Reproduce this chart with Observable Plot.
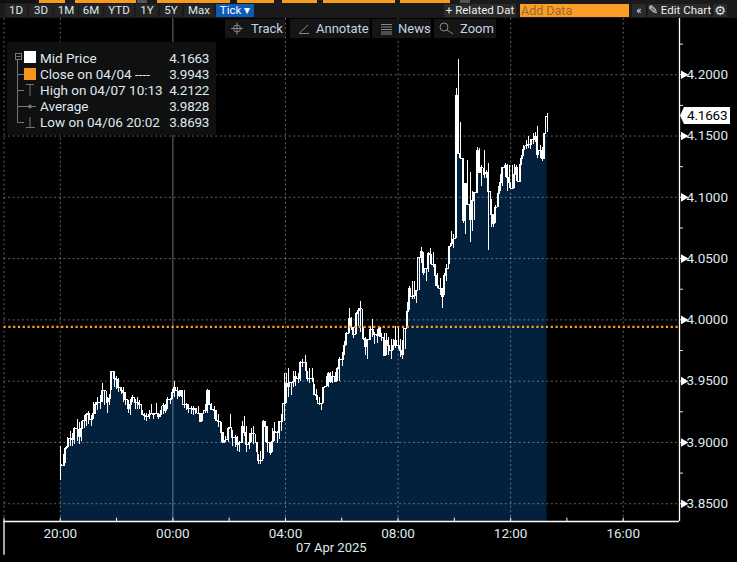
<!DOCTYPE html>
<html><head><meta charset="utf-8">
<script src="https://cdn.jsdelivr.net/npm/d3@7"></script>
<script src="https://cdn.jsdelivr.net/npm/@observablehq/plot@0.6"></script>
<style>
html,body{margin:0;background:#000;overflow:hidden}
#wrap{position:relative;width:737px;height:562px;background:#000;overflow:hidden;font-family:Roboto,sans-serif;color:#dfe8ef}
#wrap svg.plot{display:block;position:absolute;left:0;top:0}
.o{position:absolute}
.btn{position:absolute;top:4px;height:13px;line-height:13px;font-size:11.5px;text-align:center;background:#242424;color:#dfe8ef;white-space:pre}
.tool{position:absolute;top:19px;height:19px;line-height:19px;font-size:13px;background:#151515;color:#c4d3e0;white-space:pre}
.row{position:absolute;left:40px;height:16px;line-height:16px;font-size:13.5px;color:#dfe8ef;white-space:pre}
.val{position:absolute;height:16px;line-height:16px;font-size:13.5px;letter-spacing:-.3px;color:#dfe8ef;text-align:right}
</style></head><body>
<div id="wrap"></div>
<script>
const highs = [
3.897,3.890,3.896,3.904,3.909,3.907,3.912,3.919,3.916,3.917,3.922,3.924,3.925,3.922,3.933,3.933,3.937,3.938,3.948,3.942,3.937,3.939,3.958,3.958,3.954,3.952,3.945,3.945,3.941,3.934,3.935,3.938,3.935,3.937,3.934,3.926,3.924,
3.924,3.926,3.931,3.924,3.932,3.924,3.926,3.932,3.931,3.937,3.936,3.943,3.950,3.945,3.942,3.942,3.942,3.932,3.931,3.929,3.929,3.928,3.929,3.924,3.924,3.931,3.943,3.942,3.932,3.929,3.926,3.923,3.916,3.908,3.905,3.912,
3.923,3.910,3.906,3.905,3.901,3.917,3.921,3.913,3.907,3.911,3.913,3.900,3.890,3.893,3.918,3.917,3.913,3.900,3.911,3.916,3.909,3.917,3.923,3.956,3.956,3.960,3.949,3.958,3.958,3.956,3.966,3.968,3.971,3.958,3.960,3.960,
3.947,3.943,3.937,3.932,3.945,3.954,3.957,3.957,3.958,3.957,3.961,3.969,3.973,3.982,3.990,4.009,4.002,3.994,4.006,4.009,4.015,3.994,3.986,3.984,3.995,4.000,3.990,3.992,3.995,3.989,3.989,3.989,3.986,3.984,3.984,3.995,
3.993,3.984,3.983,3.993,4.014,
4.027,4.031,4.031,4.024,4.051,4.059,4.055,4.042,4.055,4.058,4.055,4.045,4.038,4.034,4.0255,4.038,4.045,4.060,4.072,4.070,4.189,
4.2122,4.161,4.132,4.111,4.130,4.120,4.105,4.104,4.141,4.140,4.126,4.138,4.122,4.128,4.098,4.086,4.093,4.109,4.119,4.124,4.128,4.127,4.126,4.126,4.127,4.126,4.127,4.134,4.142,4.146,4.1495,4.1475,4.152,4.153,4.158,4.142,4.141,4.152,4.168];
const lows = [
3.8693,3.880,3.883,3.895,3.897,3.897,3.898,3.901,3.898,3.901,3.911,3.913,3.915,3.913,3.919,3.923,3.926,3.927,3.933,3.930,3.924,3.930,3.942,3.945,3.943,3.941,3.939,3.933,3.930,3.924,3.922,3.933,3.927,3.927,3.927,3.922,3.918,
3.917,3.919,3.923,3.919,3.923,3.919,3.920,3.923,3.924,3.927,3.931,3.935,3.937,3.935,3.937,3.937,3.928,3.926,3.924,3.923,3.922,3.923,3.924,3.917,3.917,3.924,3.924,3.931,3.926,3.919,3.918,3.912,3.900,3.900,3.900,3.900,
3.911,3.897,3.896,3.893,3.892,3.899,3.905,3.892,3.894,3.900,3.898,3.892,3.882,3.882,3.886,3.900,3.892,3.889,3.892,3.901,3.899,3.902,3.909,3.917,3.932,3.937,3.938,3.945,3.946,3.948,3.950,3.961,3.958,3.950,3.948,3.949,
3.939,3.934,3.930,3.926,3.932,3.945,3.945,3.948,3.948,3.949,3.950,3.950,3.962,3.971,3.979,3.989,3.991,3.985,3.988,3.995,3.990,3.983,3.971,3.968,3.983,3.986,3.980,3.981,3.986,3.982,3.971,3.971,3.971,3.968,3.975,3.977,
3.976,3.969,3.968,3.976,3.993,
4.008,4.017,4.017,4.013,4.024,4.046,4.036,4.031,4.039,4.045,4.043,4.027,4.0255,4.020,4.009,4.020,4.031,4.045,4.0595,4.058,4.066,
4.135,4.132,4.079,4.070,4.093,4.063,4.072,4.081,4.103,4.120,4.109,4.115,4.115,4.057,4.075,4.075,4.079,4.092,4.105,4.109,4.116,4.105,4.107,4.107,4.107,4.113,4.113,4.126,4.133,4.139,4.140,4.139,4.143,4.145,4.132,4.132,4.129,4.131,4.153];
const closes = [
3.882,3.881,3.895,3.897,3.903,3.902,3.911,3.911,3.905,3.911,3.918,3.923,3.924,3.919,3.924,3.931,3.933,3.933,3.942,3.942,3.933,3.936,3.958,3.952,3.951,3.945,3.942,3.941,3.935,3.928,3.931,3.937,3.933,3.933,3.931,3.923,3.922,
3.921,3.923,3.924,3.923,3.924,3.921,3.923,3.930,3.926,3.935,3.935,3.941,3.945,3.942,3.938,3.942,3.931,3.931,3.928,3.928,3.927,3.928,3.924,3.917,3.924,3.926,3.942,3.931,3.927,3.926,3.918,3.917,3.908,3.900,3.902,3.911,
3.912,3.904,3.904,3.898,3.900,3.913,3.908,3.898,3.900,3.907,3.907,3.900,3.885,3.885,3.917,3.913,3.900,3.892,3.901,3.909,3.908,3.917,3.917,3.932,3.948,3.946,3.949,3.950,3.954,3.952,3.965,3.965,3.965,3.952,3.952,3.952,
3.939,3.938,3.932,3.932,3.945,3.946,3.956,3.950,3.954,3.950,3.960,3.968,3.968,3.979,3.989,4.001,3.994,3.988,4.005,4.008,4.009,3.985,3.978,3.984,3.992,3.992,3.988,3.987,3.994,3.986,3.971,3.983,3.979,3.975,3.979,3.983,
3.979,3.975,3.972,3.993,4.007,
4.0255,4.019,4.020,4.024,4.051,4.056,4.039,4.042,4.054,4.053,4.045,4.036,4.028,4.0255,4.019,4.036,4.042,4.0595,4.062,4.066,4.183,
4.136,4.132,4.081,4.111,4.094,4.082,4.097,4.104,4.138,4.120,4.124,4.119,4.120,4.105,4.086,4.079,4.092,4.103,4.112,4.124,4.126,4.116,4.112,4.107,4.119,4.124,4.113,4.132,4.139,4.142,4.143,4.143,4.1475,4.150,4.135,4.138,4.132,4.152,4.1663];
const priorClose = 3.9943;
const lastPrice = 4.1663;
const yTicks = [3.85,3.875,3.9,3.925,3.95,3.975,4.0,4.025,4.05,4.075,4.1,4.125,4.15,4.175,4.2,4.225];
const yGrid = [3.85,3.9,3.95,4.0,4.05,4.1,4.15,4.2];
const dateLabel = "07 Apr 2025";
const rangeBtns = [["1D",5,22],["3D",29,24],["1M",54,24],["6M",79,24],["YTD",104,30],["1Y",136,22],["5Y",160,22],["Max",184,30]];
const legendRows = [["Mid Price","4.1663"],["Close on 04/04 ----","3.9943"],["High on 04/07 10:13","4.2122"],["Average","3.9828"],["Low on 04/06 20:02","3.8693"]];

const t0 = Date.UTC(2025,3,6,20,1);
const barMinutes = 4.96;
const hour = h => new Date(Date.UTC(2025,3,6,18)+h*3600000);
const bars = closes.map((c,i)=>({t:new Date(t0+i*barMinutes*60000),close:c,high:highs[i],low:lows[i]}));
const xMin = hour(0), xMax = hour(24);
const yMin = 3.8355, yMax = 4.2459, yFoot = 3.808;
const xLabeled = [2,6,10,14,18,22].map(hour);
const xMinor = [0,2,4,6,8,10,12,14,16,18,20,22,24].map(hour);
const xGrid = [0,2,10,14,18,22].map(hour);
const midnight = hour(6);
const FONT = "Roboto, sans-serif";

const chart = Plot.plot({
  width:737, height:562,
  marginTop:18, marginBottom:41, marginLeft:3.5, marginRight:58,
  style:{background:"#000",color:"#dfe8ef",fontFamily:FONT,fontSize:"13.5px"},
  x:{type:"utc",domain:[xMin,xMax]},
  y:{domain:[yMin,yMax]},
  marks:[
    Plot.areaY(bars,{x:"t",y1:yMin,y2:"close",curve:"step",fill:"#03203d"}),
    Plot.ruleY(yGrid,{stroke:"#fff",strokeOpacity:.38,strokeDasharray:"2,2.6"}),
    Plot.ruleX(xGrid,{stroke:"#fff",strokeOpacity:.38,strokeDasharray:"2,2.6"}),
    Plot.ruleX([midnight],{stroke:"#fff",strokeOpacity:.42}),
    Plot.ruleX(bars,{x:"t",y1:"low",y2:"high",stroke:"#fff",strokeWidth:1,shapeRendering:"crispEdges"}),
    Plot.line(bars,{x:"t",y:"close",curve:"step",stroke:"#fff",strokeWidth:1,shapeRendering:"crispEdges"}),
    Plot.ruleY([priorClose],{stroke:"#ff9f1c",strokeWidth:2.2,strokeDasharray:"2.2,2.6"}),
    Plot.ruleY([yMin],{stroke:"#fff",strokeWidth:1.5}),
    Plot.ruleX([xMax],{stroke:"#fff",strokeWidth:1.3}),
    Plot.ruleX([xMin],{y1:yMin,y2:yFoot,stroke:"#fff",strokeWidth:1.3}),
    Plot.ruleX(xMinor,{y1:yMin,y2:yMin+0.0027,stroke:"#fff",strokeWidth:1}),
    Plot.axisX({ticks:xLabeled,tickSize:0,tickPadding:7,tickFormat:d3.utcFormat("%H:%M"),label:null,fontSize:13.5}),
    Plot.axisY({anchor:"right",ticks:yTicks,tickSize:3,tickPadding:4,label:null,fontSize:13.5,
      tickFormat:d=>yGrid.includes(d)?d.toFixed(4):""}),
    Plot.dot(yGrid,{x:xMax,y:d=>d,symbol:"triangle",rotate:90,r:3.2,dx:4,fill:"#fff",stroke:"none"}),
    Plot.text([dateLabel],{x:[hour(11.63)],y:[yMin],dy:26,text:d=>d,fill:"#dfe8ef",fontSize:13})
  ]
});
const wrap = document.getElementById("wrap");
chart.classList.add("plot");
wrap.appendChild(chart);

function add(html){const t=document.createElement("template");t.innerHTML=html.trim();wrap.appendChild(t.content.firstChild);}
// top strip
add(`<div class="o" style="left:0;top:0;width:737px;height:18px;background:#1a1a1a"></div>`);
[[0,36,"#111"],[39,26,"#f79a1e"],[75,61,"#f79a1e"],[157,73,"#f79a1e"],[137,10,"#555"],[237,37,"#f79a1e"],[282,35,"#f79a1e"],[323,47,"#f79a1e"],[370,25,"#f79a1e"],[400,50,"#f79a1e"],[460,10,"#555"]].forEach(([l,w,c])=>
  add(`<div class="o" style="left:${l}px;top:0;width:${w}px;height:2.5px;background:${c}"></div>`));
rangeBtns.forEach(([s,l,w])=>add(`<div class="btn" style="left:${l}px;width:${w}px">${s}</div>`));
add(`<div class="btn" style="left:216px;width:38px;background:#0b5cb8;color:#fff">Tick ▾</div>`);
add(`<div class="btn" style="left:444px;width:72px;background:#2a2a2a;color:#eee">+ Related Dat</div>`);
add(`<div class="btn" style="left:520px;width:109px;background:#fb9d26;color:#9c6a25;text-align:left;padding-left:1px;box-sizing:border-box;font-size:12.5px">Add Data</div>`);
add(`<div class="btn" style="left:632px;width:14px;background:#2a2a2a">«</div>`);
add(`<div class="btn" style="left:648px;width:62px;background:#2a2a2a;color:#eee">✎ Edit Chart</div>`);
add(`<div class="btn" style="left:713px;width:14px;background:#2a2a2a;font-family:'DejaVu Sans';font-size:13px">⚙</div>`);
// tool buttons
[[225,60,"Track",251],[290,80,"Annotate",316],[372,59,"News",398],[434,62,"Zoom",460]].forEach(([l,w,s,sx])=>{
  add(`<div class="tool" style="left:${l}px;width:${w}px"></div>`);
  add(`<div class="tool" style="left:${sx}px;background:none">${s}</div>`);
});
add(`<svg class="o" style="left:225px;top:19px" width="272" height="19" fill="none" stroke="#888" stroke-width="1">
<circle cx="12" cy="9.5" r="3.5"/><path d="M12 3.5V15.5M6 9.5H18"/>
<path d="M74 14.5H84M74 14.5L83 6" />
<path d="M156 5.5H167M156 8H167M156 10.5H167M156 13H167M156 15H167"/>
<circle cx="219" cy="8" r="4"/><path d="M222 11L228 15"/>
</svg>`);
// legend panel
add(`<div class="o" style="left:7px;top:42px;width:209px;height:93px;background:#101010;border-radius:3px"></div>`);
add(`<svg class="o" style="left:0;top:0" width="240" height="140" fill="none" stroke="#777">
<rect x="15.5" y="53.5" width="6" height="6"/><path d="M16.5 56.5h4"/>
<path d="M17.5 60V122.5H24M17.5 74.5H24M17.5 90.5H24M17.5 106.5H24"/>
<path d="M26 84.5H34M30 84.5V96M24 106.5H36M30 117V127M26 127.5H35"/><circle cx="30" cy="106.5" r="1.5" fill="#777"/>
</svg>`);
add(`<div class="o" style="left:24px;top:51px;width:12px;height:12px;background:#fff"></div>`);
add(`<div class="o" style="left:24px;top:68px;width:12px;height:12px;background:#f7941d"></div>`);
legendRows.forEach(([a,b],i)=>{
  const top=50+i*16;
  add(`<div class="row" style="top:${top}px">${a}</div>`);
  add(`<div class="o val" style="left:165px;width:44px;top:${top}px">${b}</div>`);
});
// last-price tag
add(`<div class="o" style="left:680px;top:107px;width:50px;height:17px;background:#fff;clip-path:polygon(0 50%,4px 0,100% 0,100% 100%,4px 100%);color:#000;font-size:13.5px;letter-spacing:-.2px;line-height:17px;padding-left:7px;box-sizing:border-box">${lastPrice.toFixed(4)}</div>`);
</script>
</body></html>
